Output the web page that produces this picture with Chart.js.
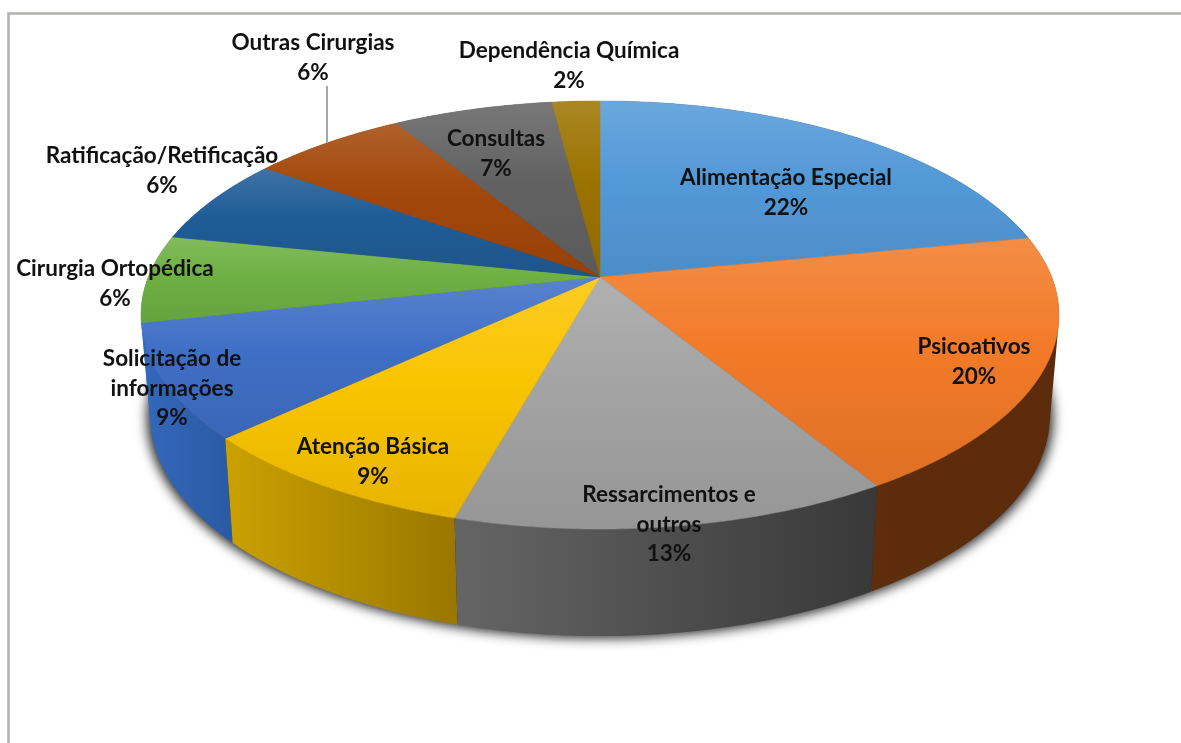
<!DOCTYPE html>
<html lang="pt">
<head>
<meta charset="utf-8">
<style>
html,body{margin:0;padding:0;background:#fff;overflow:hidden}
canvas{display:block;filter:blur(0.6px)}
</style>
<script src="https://cdn.jsdelivr.net/npm/chart.js@4"></script>
</head>
<body>
<canvas id="c" width="1181" height="743"></canvas>
<script>
// ---- data ----
const categories = ["Alimentação Especial","Psicoativos","Ressarcimentos e outros","Atenção Básica","Solicitação de informações","Cirurgia Ortopédica","Ratificação/Retificação","Outras Cirurgias","Consultas","Dependência Química"];
const values = [21.9,19.4,13.0,8.7,8.6,6.6,6.6,6.5,6.7,2.0];
const percentLabels = ["22%","20%","13%","9%","9%","6%","6%","6%","7%","2%"];

// ---- styles ----
const sliceColors = ["#5399D8","#F27A28","#A3A3A3","#FAC400","#3F6FC6","#6FB043","#1F5C96","#A3470A","#626262","#9C7300"];
const wallLeft  = ["#5c2d0c","#5e2d0c","#656565","#cba100","#3468bd","#3468bd","#3468bd","#6b3009","#444444","#6b5000"];
const wallRight = ["#5c2d0c","#5c2b0b","#383838","#997700","#2a5aa2","#3468bd","#3468bd","#6b3009","#444444","#6b5000"];

// ---- layout (screen positions of text, one entry per slice) ----
const labelLines = [["Alimentação Especial"],["Psicoativos"],["Ressarcimentos e","outros"],["Atenção Básica"],["Solicitação de","informações"],["Cirurgia Ortopédica"],["Ratificação/Retificação"],["Outras Cirurgias"],["Consultas"],["Dependência Química"]];
const labelX = [786,974,669,373,172,115,162,313,496,569];
const labelY = [178,347,495,447,359,269,156,43,139,51];
const LINE = 29.5;

// perspective projection of the pie's unit circle
const view = {cx:600, cy:277, R:451.7, K:207.3, p:0.1776, bottomCy:376.5, bottomScaleX:0.98, bottomScaleY:1.03};
function project(a, bottom){
  const x=Math.cos(a), y=Math.sin(a), w=1/(1-view.p*y);
  if(!bottom) return [view.cx+view.R*x*w, view.cy+view.K*y*w];
  return [view.cx+view.bottomScaleX*view.R*x*w, view.bottomCy+view.bottomScaleY*view.K*y*w];
}
function rim(a0,a1){
  const n=Math.max(4,Math.ceil((a1-a0)*90)), out=[];
  for(let i=0;i<=n;i++) out.push(a0+(a1-a0)*i/n);
  return out;
}
function mix(hex,t){ // t>0 towards white, t<0 towards black
  const c=[1,3,5].map(i=>parseInt(hex.substr(i,2),16));
  const r=c.map(v=>Math.round(t>0?v+(255-v)*t:v*(1+t)));
  return `rgb(${r[0]},${r[1]},${r[2]})`;
}
function addQuad(ctx,q){
  let area=0;
  q.forEach((p,i)=>{const n=q[(i+1)%4];area+=p[0]*n[1]-n[0]*p[1];});
  const pts=area<0?q.slice().reverse():q;
  pts.forEach((p,i)=>i?ctx.lineTo(p[0],p[1]):ctx.moveTo(p[0],p[1]));
  ctx.closePath();
}

const pie3d = {
  id:'pie3d',
  beforeDraw(chart){
    const ctx=chart.ctx;
    ctx.save();
    ctx.fillStyle='#fff';
    ctx.fillRect(0,0,chart.width,chart.height);
    ctx.strokeStyle='#b3b0ae';
    ctx.lineWidth=2.5;
    ctx.beginPath();
    ctx.moveTo(8.5,743);ctx.lineTo(8.5,13.5);ctx.lineTo(1181,13.5);
    ctx.stroke();
    ctx.restore();
  },
  beforeDatasetDraw(chart,args){
    const ctx=chart.ctx, arcs=chart.getDatasetMeta(args.index).data;
    ctx.save();
    // soft shadow below the disc (shape drawn off-canvas, only its shadow lands here)
    ctx.save();
    const off=4000;
    ctx.shadowColor='rgba(0,0,0,0.85)';
    ctx.shadowBlur=12;
    ctx.shadowOffsetX=off;
    ctx.fillStyle='#000';
    ctx.beginPath();
    rim(-Math.PI/2,Math.PI*1.5).forEach((a,i)=>{
      const p=project(a,true);
      const X=view.cx+(p[0]-view.cx)*1.007-off, Y=p[1]+2;
      i?ctx.lineTo(X,Y):ctx.moveTo(X,Y);
    });
    ctx.closePath();ctx.fill();
    ctx.restore();
    // side walls, back to front, as ruled strips between the two rims (one path per slice)
    const order=arcs.map((a,i)=>i).sort((i,j)=>
      Math.sin((arcs[i].startAngle+arcs[i].endAngle)/2)-Math.sin((arcs[j].startAngle+arcs[j].endAngle)/2));
    order.forEach(i=>{
      const arc=arcs[i];
      const as=rim(arc.startAngle,arc.endAngle);
      const top=as.map(a=>project(a,false)), bot=as.map(a=>project(a,true));
      const xs=top.concat(bot).map(p=>p[0]);
      const g=ctx.createLinearGradient(Math.min(...xs),0,Math.max(...xs),0);
      g.addColorStop(0,wallLeft[i]);g.addColorStop(1,wallRight[i]);
      ctx.fillStyle=g;
      ctx.beginPath();
      for(let k=0;k<as.length-1;k++){
        addQuad(ctx,[top[k],top[k+1],bot[k+1],bot[k]]);
      }
      ctx.fill();
    });
    // top faces
    arcs.forEach((arc,i)=>{
      const top=rim(arc.startAngle,arc.endAngle).map(a=>project(a,false));
      const pts=[[view.cx,view.cy]].concat(top);
      const ys=pts.map(p=>p[1]);
      const base=arc.options.backgroundColor;
      const g=ctx.createLinearGradient(0,Math.min(...ys),0,Math.max(...ys));
      g.addColorStop(0,mix(base,0.14));
      g.addColorStop(0.45,mix(base,0));
      g.addColorStop(1,mix(base,-0.08));
      ctx.fillStyle=g;ctx.strokeStyle=g;ctx.lineWidth=0.5;
      ctx.beginPath();
      pts.forEach((p,k)=>k?ctx.lineTo(p[0],p[1]):ctx.moveTo(p[0],p[1]));
      ctx.closePath();ctx.fill();ctx.stroke();
    });
    ctx.restore();
    return false;
  },
  afterDatasetsDraw(chart){
    const ctx=chart.ctx;
    ctx.save();
    // leader line for "Outras Cirurgias"
    ctx.strokeStyle='#a6a6a6';ctx.lineWidth=2;
    ctx.beginPath();ctx.moveTo(327,86);ctx.lineTo(327,143);ctx.stroke();
    ctx.fillStyle='#111';
    ctx.font='bold 22.5px Lato';
    ctx.textAlign='center';ctx.textBaseline='middle';
    categories.forEach((_,i)=>{
      const lines=labelLines[i].concat(percentLabels[i]);
      lines.forEach((t,k)=>ctx.fillText(t,labelX[i],labelY[i]+k*LINE));
    });
    ctx.restore();
  }
};

new Chart(document.getElementById('c'),{
  type:'pie',
  data:{labels:categories,datasets:[{data:values,backgroundColor:sliceColors,borderWidth:0}]},
  options:{
    responsive:false,animation:false,
    plugins:{legend:{display:false},tooltip:{enabled:false},title:{display:false}}
  },
  plugins:[pie3d]
});
</script>
</body>
</html>
